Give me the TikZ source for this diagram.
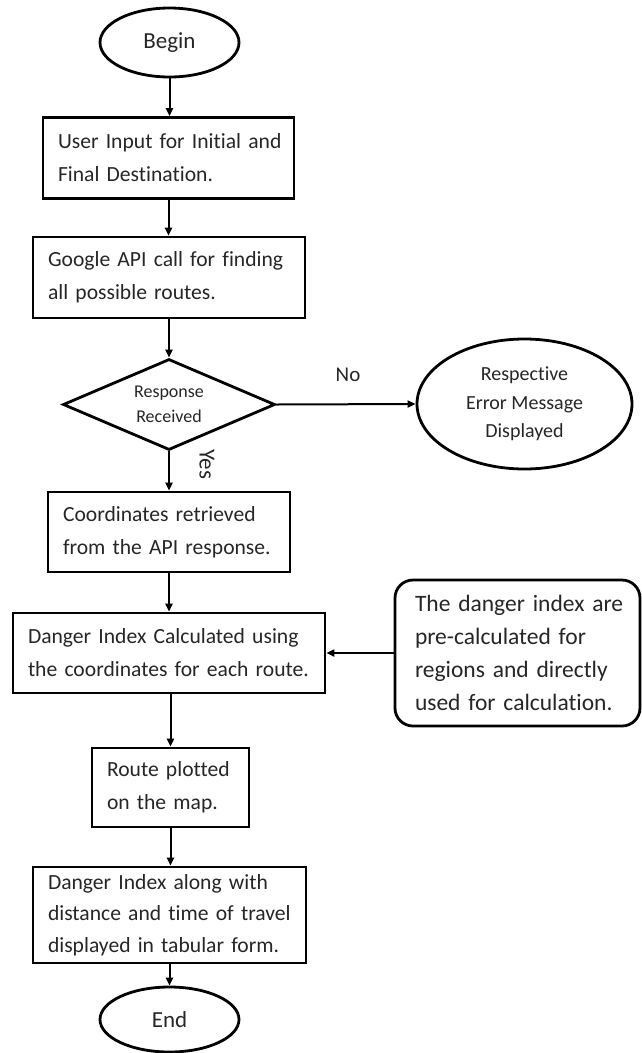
\documentclass[tikz,border=0pt]{standalone}
\usepackage{fontspec}
\setmainfont{Carlito}[Ligatures={NoCommon}]
\usetikzlibrary{shapes.geometric,arrows.meta}
\begin{document}
\begin{tikzpicture}[x=1pt,y=-1pt,
  ink/.style={text=black!85},
  procbox/.style={ink, draw=black, line width=2.8pt, rectangle, inner xsep=15pt, inner ysep=0pt,
    align=left, font=\fontsize{21.6}{33}\selectfont},
  notebox/.style={ink, draw=black, line width=2.8pt, rectangle, rounded corners=18pt,
    inner xsep=20pt, inner ysep=0pt, align=left, font=\fontsize{23.5}{33}\selectfont},
  terminal/.style={ink, draw=black, line width=2.8pt, ellipse, inner sep=0pt,
    font=\fontsize{23}{28}\selectfont},
  decision/.style={ink, draw=black, line width=2.8pt, diamond, aspect=2.33, inner sep=0pt,
    align=center, font=\fontsize{18}{25}\selectfont},
  conn/.style={line width=2pt, -{Triangle[length=8pt,width=7pt]}},
  lbl/.style={ink, font=\fontsize{21}{21}\selectfont}
]
\path[use as bounding box] (0,0) rectangle (641,1053);

% main column
\node[terminal, minimum width=139pt, minimum height=69pt] (begin) at (169.5,42.5) {Begin};
\node[procbox, text width=221pt, minimum height=81pt] (input) at (168.5,158)
  {\mbox{User Input for Initial and}\\\mbox{Final Destination.}};
\node[procbox, text width=242pt, minimum height=81pt] (api) at (169,277.5)
  {\mbox{Google API call for finding}\\\mbox{all possible routes.}};
\node[decision, minimum width=212pt, minimum height=91pt] (resp) at (169,404.5)
  {Response\\Received};
\node[terminal, align=center, minimum width=215pt, minimum height=130pt,
  font=\fontsize{20}{28.5}\selectfont] (err) at (524.5,404)
  {Respective\\Error Message\\Displayed};
\node[procbox, text width=212pt, minimum height=80pt] (coords) at (169,532)
  {\mbox{Coordinates retrieved}\\\mbox{from the API response.}};
\node[procbox, text width=282pt, minimum height=80pt] (danger) at (169,653)
  {\mbox{Danger Index Calculated using}\\\mbox{the coordinates for each route.}};
\node[notebox, text width=205pt, minimum height=146pt] (note) at (517.5,653)
  {\mbox{The danger index are}\\\mbox{pre-calculated for}\\\mbox{regions and directly}\\\mbox{used for calculation.}};
\node[procbox, text width=127pt, minimum height=79pt] (plot) at (170.5,787.5)
  {\mbox{Route plotted}\\\mbox{on the map.}};
\node[procbox, text width=243pt, minimum height=96pt, font=\fontsize{21.6}{31.5}\selectfont] (table) at (169.5,915)
  {\mbox{Danger Index along with}\\\mbox{distance and time of travel}\\\mbox{displayed in tabular form.}};
\node[terminal, minimum width=139pt, minimum height=65pt] (end) at (169.5,1019.5) {End};

% connectors
\draw[conn] (begin.south) -- (begin.south |- input.north);
\draw[conn] (input.south) -- (input.south |- api.north);
\draw[conn] (api.south) -- (api.south |- resp.north);
\draw[conn] (resp.east) -- (err.west);
\draw[conn] (resp.south) -- (resp.south |- coords.north);
\draw[conn] (coords.south) -- (coords.south |- danger.north);
\draw[conn] (note.west) -- (danger.east);
\draw[conn] (danger.south -| plot.north) -- (plot.north);
\draw[conn] (plot.south) -- (plot.south |- table.north);
\draw[conn] (table.south -| end.north) -- (end.north);

% branch labels
\node[lbl] (no) at (348,375) {No};
\node[lbl, rotate=-90, font=\fontsize{23}{23}\selectfont] (yes) at (207,464) {Yes};
\end{tikzpicture}
\end{document}
